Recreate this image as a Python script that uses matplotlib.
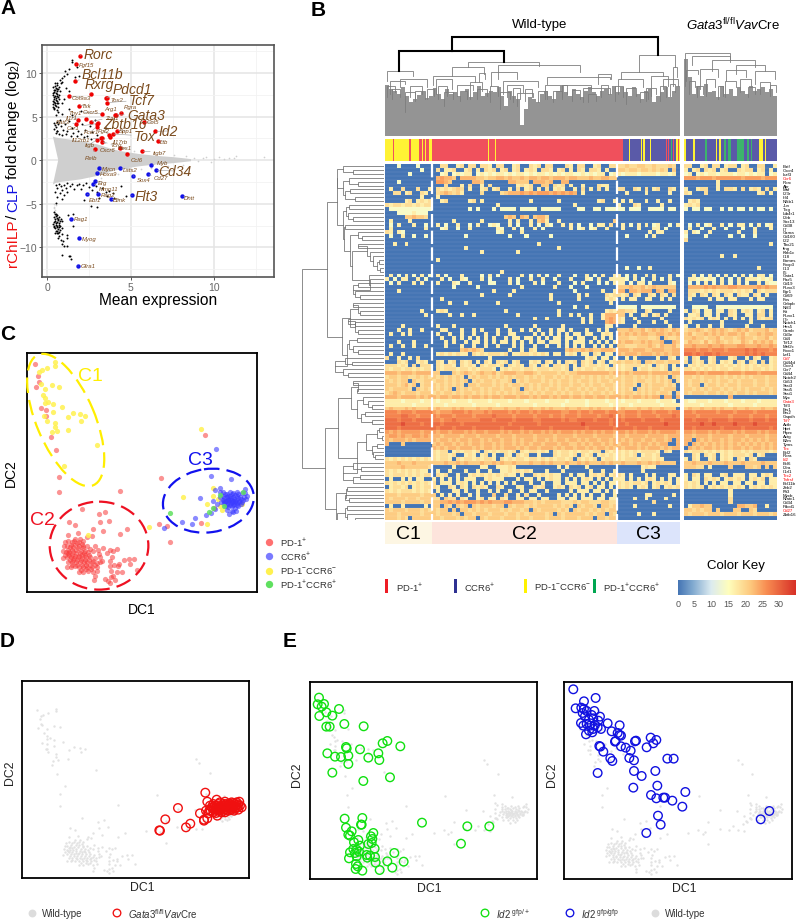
import numpy as np
import matplotlib
matplotlib.use('Agg')
import matplotlib.pyplot as plt
from matplotlib.colors import LinearSegmentedColormap, ListedColormap
from matplotlib.patches import Ellipse, Rectangle

plt.rcParams['font.family'] = ['Liberation Sans', 'DejaVu Sans']
plt.rcParams['mathtext.fontset'] = 'custom'
plt.rcParams['mathtext.rm'] = 'Liberation Sans'
plt.rcParams['mathtext.it'] = 'Liberation Sans:italic'
plt.rcParams['mathtext.default'] = 'regular'

W, H = 800, 920

# ---------- panel A: MA plot, x = mean expression, y = log2 fold change
FUNNEL_X = [0.33, 0.5, 0.8, 1.2, 1.6, 2.0, 2.5, 3.0, 3.5, 4.0, 4.5, 5.0, 5.5, 6.0, 6.5, 7.0, 7.5, 8.0, 8.6]
FUNNEL_UP = [2.7, 2.6, 2.5, 2.4, 2.3, 2.2, 2.0, 1.8, 1.5, 1.2, 1.0, 0.85, 0.7, 0.6, 0.5, 0.42, 0.35, 0.25, 0.12]
FUNNEL_LOW = [-2.8, -2.6, -2.5, -2.4, -2.3, -2.2, -2.0, -1.8, -1.5, -1.2, -1.0, -0.85, -0.7, -0.6, -0.5, -0.42, -0.35, -0.25, -0.12]
FUNNEL_NOTCH = (0.65, 0.0)
GREY_DOTS = [(8.8, 0.3), (9.0, -0.1), (9.3, 0.2), (9.5, 0.35), (9.8, -0.2), (10.0, 0.15), (10.3, 0.4), (10.6, 0.1),
             (10.9, 0.3), (11.2, 0.2), (11.3, 0.45), (13.0, 0.35), (8.3, 0.5), (8.1, -0.5), (7.6, 0.6), (7.2, -0.7),
             (6.8, 0.8), (6.2, -0.9), (5.6, -1.05), (5.2, 1.1), (4.6, 1.4), (4.2, -1.55), (3.8, 1.8), (3.2, -2.1),
             (0.4, -5.4), (0.45, -5.7), (0.4, -5.9), (0.5, -5.2), (0.42, -5.0), (0.38, -5.5)]
BLACK_DOTS = [
    (0.4, 6.0), (0.5, 6.2), (0.35, 6.4), (0.55, 6.5), (0.42, 6.7), (0.6, 6.8), (0.38, 7.0), (0.5, 7.1), (0.62, 7.2),
    (0.45, 7.3), (0.36, 7.5), (0.55, 7.6), (0.7, 7.5), (0.42, 7.8), (0.58, 7.9), (0.4, 8.1), (0.66, 8.2), (0.5, 8.3),
    (0.72, 8.4), (0.46, 8.5), (0.8, 8.8), (0.6, 8.6), (0.9, 9.0), (0.85, 9.4), (1.0, 9.6), (0.75, 9.2), (1.2, 9.9),
    (1.05, 10.2), (1.3, 10.5), (1.5, 11.5), (1.5, 11.2), (1.75, 10.7), (1.9, 9.7), (1.65, 9.5), (0.4, 5.9), (0.62, 6.1),
    (1.1, 8.3), (1.0, 7.0), (1.3, 7.9), (0.9, 6.5), (0.5, 5.2), (0.65, 5.5), (0.85, 5.3), (1.3, 5.9), (1.5, 5.2), (2.0, 5.6),
    (0.33, 6.8), (0.47, 6.5), (0.52, 6.9), (0.4, 7.2), (0.6, 7.4), (0.33, 7.7), (0.5, 7.7), (0.48, 8.0), (0.57, 8.2), (0.36, 8.4),
    (0.44, 6.3), (0.65, 6.6), (0.72, 7.0), (0.78, 7.9), (0.35, 6.1), (0.55, 5.8), (0.6, 8.9), (0.48, 8.8),
    (0.45, 4.0), (0.55, 4.4), (0.42, 3.6), (0.6, 3.4), (0.75, 4.6), (0.8, 3.9), (0.95, 3.5), (1.05, 4.2), (1.2, 3.3),
    (1.3, 4.5), (1.45, 3.7), (1.55, 3.1), (1.7, 4.0), (1.85, 3.4), (2.0, 3.0), (2.1, 4.1), (2.25, 3.5), (2.4, 2.8),
    (2.55, 3.9), (2.7, 3.2), (2.85, 4.6), (3.0, 2.9), (0.5, 3.1), (0.7, 3.0), (0.9, 2.9), (1.1, 3.0), (1.4, 2.8),
    (1.8, 2.8), (2.2, 2.6), (2.6, 2.4), (3.3, 2.2), (3.5, 3.7), (0.5, 3.8), (0.65, 4.2), (0.42, 4.3), (0.55, 3.3),
    (0.5, -2.8), (0.6, -3.2), (0.7, -2.7), (0.8, -3.0), (0.9, -3.4), (1.0, -2.8), (1.1, -3.2), (1.2, -2.6), (1.35, -3.0),
    (1.5, -2.7), (1.6, -3.3), (1.75, -2.9), (1.9, -2.7), (2.0, -3.3), (2.15, -2.8), (2.3, -2.6), (0.45, -3.6), (0.55, -4.2),
    (0.75, -3.8), (0.85, -4.5), (1.0, -4.0), (1.2, -3.7), (0.5, -4.9), (2.5, -3.1), (2.7, -3.4), (2.9, -3.0), (3.0, -3.6),
    (3.3, -3.2), (3.5, -3.7), (3.6, -4.1), (3.9, -3.8), (4.0, -4.3), (3.7, -3.5), (2.2, -4.6), (2.6, -5.3), (2.95, -5.4),
    (4.7, -4.1), (4.4, -3.0), (3.1, -4.3),
    (0.4, -6.0), (0.5, -6.2), (0.6, -6.3), (0.38, -6.5), (0.55, -6.6), (0.72, -6.5), (0.45, -6.8), (0.65, -6.9), (0.8, -6.7),
    (0.4, -7.1), (0.5, -7.2), (0.7, -7.2), (0.85, -7.0), (0.42, -7.5), (0.6, -7.5), (0.78, -7.6), (0.48, -7.8), (0.66, -7.9),
    (0.9, -7.8), (0.5, -8.1), (0.72, -8.2), (0.55, -8.4), (0.85, -8.5), (0.7, -8.7), (0.62, -8.9), (0.8, -9.1), (0.95, -9.3),
    (0.85, -9.6), (1.0, -9.9), (1.15, -9.8), (1.2, -8.6), (1.25, -6.3), (1.55, -6.2), (0.9, -10.9), (1.3, -11.0), (1.4, -11.3),
    (1.35, -10.95), (1.2, -8.9), (1.55, -7.6), (0.44, -6.2), (0.53, -6.45), (0.62, -6.7), (0.47, -7.0), (0.58, -7.05), (0.75, -6.95),
    (0.36, -7.3), (0.53, -7.4), (0.68, -7.45), (0.38, -7.7), (0.56, -7.7), (0.7, -7.7), (0.6, -8.1), (0.45, -8.3), (0.63, -8.35), (0.78, -8.0),
]
RED_GENES = ['Rorc', 'Fgf15', 'Bcl11b', 'Rxrg', 'Col9a3', 'Pdcd1', 'Tox2', 'Tcf7', 'Txk', 'Arg1', 'Rgra', 'Gata3', 'Thy1',
             'Cxcr5', 'Trat1', 'Il1r1', 'Batf3', 'Ccr1', 'Zbtb16', 'Fcer1', 'Fgf2', 'Spp1', 'Tox', 'Il12rb1', 'Il17rb',
             'Itgb', 'Tcrg', 'Cxcr6', 'Hes1', 'Relb', 'Ccl6', 'Itgb7', 'Col5', 'Id2', 'Ltb']
RED_X = [1.96, 1.72, 1.68, 2.6, 1.32, 3.5, 3.55, 3.6, 1.88, 4.07, 4.4, 4.1, 3.3, 2.3, 2.6, 1.85, 1.7, 3.0, 3.05, 2.95,
         3.7, 4.15, 3.9, 3.2, 3.75, 3.0, 3.25, 3.3, 4.37, 2.85, 4.75, 5.65, 5.8, 6.47, 6.6]
RED_Y = [12.0, 11.0, 9.1, 7.6, 7.3, 7.1, 7.15, 6.6, 6.26, 5.2, 5.45, 5.2, 5.34, 4.75, 4.4, 4.65, 4.2, 4.2, 4.3, 3.85,
         2.9, 3.4, 3.0, 2.5, 2.65, 2.35, 2.1, 2.55, 1.37, 1.3, 0.65, 1.0, 4.35, 3.3, 2.2]
BLUE_GENES = ['Myb', 'Cd34', 'Mycn', 'Lats2', 'Hoxa9', 'Sox4', 'Cd27', 'Erg', 'Mmp11', 'Rag2', 'Ebf1', 'Blink', 'Flt3',
              'Dntt', 'Rag1', 'Myog', 'Gfra1']
BLUE_X = [6.23, 6.49, 3.11, 4.37, 2.97, 5.13, 6.0, 2.87, 2.73, 3.03, 2.4, 3.79, 5.05, 8.08, 1.4, 1.9, 1.82]
BLUE_Y = [-0.6, -1.15, -0.92, -0.92, -1.45, -1.8, -1.64, -2.44, -2.75, -3.85, -3.9, -4.47, -4.05, -4.16, -6.76, -8.93, -12.14]
# label anchors (left, centre), in reference pixels, and the text size
RED_LABEL_POS = [(84, 55, 10), (79, 65, 4.3), (82, 75, 10), (85, 85, 10), (72, 98, 4.3), (113, 90, 10), (110, 100, 4.3),
                 (129, 101, 10), (81, 106, 4.3), (104, 109, 4.3), (124, 108, 4.3), (127, 116, 10), (68, 113, 4.3),
                 (83, 113, 4.3), (105, 118, 4.3), (66, 118, 4.3), (56, 123, 4.3), (67, 128, 4.3), (103, 125, 10),
                 (84, 132, 4.3), (98, 132, 4.3), (119, 132, 4.3), (134, 137, 10), (72, 140, 4.3), (113, 142, 4.3),
                 (85, 145, 4.3), (110, 146, 4.3), (100, 150, 4.3), (118, 149, 4.3), (85, 158, 4.3), (131, 161, 4.3),
                 (153, 153, 4.3), (147, 123, 4.3), (158, 132, 10), (160, 142, 4.3)]
BLUE_LABEL_POS = [(157, 163, 4.3), (158, 172, 10), (102, 169, 4.3), (123, 170, 4.3), (100, 175, 4.3), (137, 181, 4.3),
                  (154, 179, 4.3), (98, 183, 4.3), (99, 189, 4.3), (101, 195, 4.3), (89, 201, 4.3), (113, 201, 4.3),
                  (135, 197, 10), (184, 198, 4.3), (74, 220, 4.3), (82, 239, 4.3), (81, 267, 4.3)]

# ---------- panel B: heat map, one string per gene: C1 C2 C3 and Gata3 KO cells, digit = expression level
HEAT_VALUES = [0, 14, 17, 19, 21, 23, 25, 27, 29, 32]
HEAT_ROWS = [
    "000100001000 0033002303303320330023003230330003203300230033020 3343344334333430 33002303302330230033002",
    "000000000100 0302230023020323023023023203320230203203320200230 4434434434343040 20230323023003233023020",
    "000000100000 0012012122012121221212212122121212211212122012120 2122212222122120 12012122122212212122012",
    "000000000000 0565540555544344554544545545545554554445445544550 0000000000000000 66656665666666566665666",
    "000100000000 0665400000554000000554440555450055000000000000000 0000000000000000 00000000200000000000000",
    "000000000000 0003000203002030000002323004403230200200032200000 0000000000000000 00000000200000000000000",
    "020030003002 0323234302002302300203023020302320020302030200320 3300320302300320 20023300203320302320302",
    "003302300320 0345434200003000034555656566656565650200000000000 0020000200000200 32000300000000000023020",
    "000000000200 0200000000000000000000000000000000000000000000000 0000000000000000 00000000000000000000000",
    "000002302323 0023000002302000000000002000000200000000023002300 0202000200200200 02320000000000000000000",
    "323323323233 0000000000000000200000000000000000020000000000002 2000320000020000 23230000000000000000000",
    "011111111111 0000000001010001011110111101111100001100110111100 1101110011110110 10110110010101101011010",
    "000111121110 0000000000000000000000000000000000000000000000000 0000000000000000 00000000000000000000000",
    "000004454430 0000000000000000004540540455300000000000000000000 0000000000000000 00000000000000000000000",
    "020000200000 0000020000002000000202002045200200000000000004400 0000000000000000 00000000000000000000000",
    "010200020010 0201002001020012100201002010210020201001022030120 0201020201200102 01020120020102201020120",
    "020000000020 0012001002000000210020100201000000201201200200002 0200020002201000 02001002001000100200020",
    "320210000000 0000000000000000120000200000000000000000000000000 0000000020220000 20210020000002000200000",
    "010020010010 0000000010000000000100010000010000000000000000000 0010000102000000 10000100000100100100000",
    "000000000000 0000000000000000000000000000000000000000000000000 0000000000000000 30000000000000000000000",
    "002002000000 0000000000000000000000000020000000000000000000000 0000000000000000 00000000000000000000020",
    "000000000000 0000000020000000000000000000000200000000000000000 0000000000000000 00000000000000000000000",
    "000000000000 0000000000002000000002000000000000000000000000000 0000000000000000 00000000000000000000000",
    "000000000000 0000000000000000000000000000000000000000000000000 0000000000000000 00000000020020000000000",
    "000000000000 0200000000000000000000000000000000000000000000000 0000000000000000 00000000000000000000000",
    "000000000000 0000000000000000000000000000000000000000000000000 0000000000000000 00000000000000000000000",
    "000000000000 0000000000000000000000000000000000000000000000000 0010010020000000 00000000000000000020000",
    "000000000000 0000000000000000020000000000000000000000000000000 0000000000000000 00000000000000000000000",
    "020102010201 0201000200001020100000201020100200010020102002000 2010200202000201 00201020102010201022010",
    "201022002010 0020100210002010000201002002001000200021020022010 2210201002010200 02212121020102022212120",
    "010200020200 0200021002000011000201000201000200010200010102010 2201022010000210 01010201020102010020211",
    "000000000000 0000010000010000000000200000002000100010000000000 4445445345444440 05555656555665555565655",
    "000200000000 0000000000000002000020000000000000010000002002000 5505545550540550 03332323233323232032333",
    "000000000000 0000000000002000000200000000020000002020000323300 3230320032032030 03203203203203220320200",
    "000000000000 0020000000000000000000000000020000002000000232000 0202200220020200 02000020220220002022000",
    "000000000000 0000200020000000200000000000000200000000000020000 0000000000000000 00000000000000000000000",
    "000000000000 0000000000000000000000000000000000010020000000000 1111101111111110 00111100111111111111110",
    "000000000200 0232000000000000002000000000000200000000000232430 4433200320000200 20320220220320232023020",
    "000000000020 0000200200200000000002000000000200202002002555450 4402002302302000 02230220200320022033020",
    "000000000000 0000000000000000000000000200200000000202002565550 3200200000020000 32323023202020202032330",
    "000000000000 0000000000000000000000000000000000000202000565650 3200020002002000 02000000020000002000000",
    "000020000000 0200020000000000002000000200000020000000000220020 0000200000000200 20020020020000020002000",
    "000200200200 0022000200202000200200202020020220200020020200020 4445445345454354 34454345454345453444534",
    "020020200000 0200200200200200200220000202020202022022002320200 5454545544554545 45344545454554534454554",
    "000000000000 0020020202020202002022022020202202202200202020200 4443344433404334 44544344534434544344534",
    "000200020000 0002020020220202022020202022022202022202020202023 5455445454450054 35443534543433543545453",
    "020020020020 0002000200200200200020200200200202020200202020020 4433344454354453 55655565565556655565565",
    "000000000000 0000000454543000000200203200000004544545445554555 5554555445554455 77767767776777787877767",
    "020020000000 0232323220323233323022332323202202320220320220323 5455545554545455 88787887877777787878777",
    "300200203000 0000000000000020000000000000000000000023202202302 0020200000200320 20320023000230020320023",
    "000323002320 0320230323020320323023002320320203230323023023023 4344340443443444 30323023023203203203023",
    "333232030333 0323320323203233230323203203203323020323323203323 3233332320323020 02323233232323232323323",
    "323323323233 0323332332323332023233233233323323023233233233233 3233023323323023 33232323233233232332323",
    "555455545555 4400043454345445345554455434444343445555555545555 5454555545555455 66656566665666566656666",
    "344344334343 4343434303434434343434434343443434344343434343443 4344343434343043 44343444343434343444344",
    "434344043344 3443434340343443433403434443434344343443434434434 4344344334343403 43443434344343444344344",
    "444345340344 4343434304434443434344343434434344344343443443434 4344303434443430 43440344343443444344344",
    "434444304343 4343404343443434434434043434344343443434344343443 4343043434434440 44343434434343434443434",
    "345434443444 3434434344343434343434434343443434344343443434434 4344343434344304 43444344343434434344434",
    "555455554545 5455455454554545545554554545545455455455455455455 5454554545505505 00000000000500000000000",
    "222212222122 2122212221222212222122212222122221222212222122221 2122212222122210 21122212221222122212222",
    "222222212222 2221222222122222122222222122222212222212222212222 2221222222212222 22221222222122222122222",
    "454445454445 4544454544454454445445445445454445445445454445445 4544454454454440 45445445454454454445445",
    "777677767777 6566677767666767777676776767777766776776777677777 6677767776777677 77677777677767777677777",
    "777788776777 7677767777677778777767777677767767776777767787777 7677767777677787 77767777777677776777677",
    "888788878888 7767787777778887888878888778888878778888788878888 8788887888878888 88788878888788887888788",
    "888898888788 8878888788888888888788888878888888888988888878888 8878888888889888 88889889888898888988888",
    "888788888888 8788878888788888878888788888878888888878888887888 8888788878888888 88788888878888788888878",
    "656566666566 6566566656566566656566565665656566656566565665656 6656566656566665 66566656566656566656566",
    "566565566565 5545555455545555455545555455554555545555455554555 5545555455554555 55455545555455545555455",
    "545554545555 5455454554554545545545455455454554554545545545455 5454554554554505 55054545545455454545455",
    "500040000000 4545545454554554545545454554555455445454554545455 4554545545455005 50545454545454545454545",
    "000000000000 5454554555454554545554545545554545545545455454555 5455545455545455 05454554545455454554545",
    "000000000000 3233023233230323233230323323203233232332330323023 3232323333203200 32333232323233232333323",
    "000000000000 3233230023202302003203230020003233230323023232323 3232302332300000 00320323023233323023000",
    "323232323232 3233203233232332032323323323232332303232302332323 3233323332320000 20320023023203203200000",
    "444544454444 4445445454445445454454445445454445445454445454445 4544454454544440 44544454445444544445444",
    "444454444443 0000020000002200222320000000000202000020000000000 0000002322000000 44433020000400044340404",
    "323232323220 0200200020020020022323232000200020000002002002002 0000002000000000 00000000000000000000000",
    "323332323233 0323002002323232323220200323232200202202323023022 3202000202000220 20320220023022202202320",
    "020020202200 2020202022200232220002022020232202020232020202022 2202020232020202 20220323202323202323022",
    "323232323232 3022202320202020202020002002002202220220202022202 3232332302323202 32320202022022022022022",
    "023323023233 3200320320323200320002200323002320323023022020323 3232023202302323 32323023232323202323232",
    "323233323232 0200022020020020200200202200200000202220220202022 0000000000000000 00000000000200000000000",
    "444344444344 4020202002020004003002030020000202020202002002030 0000000220000020 00000000000200000000000",
    "434443443444 3304330320023022032002202202200220220222022022022 0000200200002000 00000000000300000000000",
    "444434444344 4455656566656565556655544343444433343443334433344 0000000003000000 00000000000300000000000",
    "020020000020 4404304340434443440434434344443434304344304434443 0000200000000200 02445440000005544500200",
    "434443444343 4344040443434344434344340434444343043443434344343 0000000000000000 44343440400044004300000",
    "444344444344 4344434044344434443443434444340434444434344043444 0000020002000000 43444344434443444344434",
    "444343044444 4434443434404344434443443444344434443444044344344 0000000000000000 00000000000000000000000",
]
GENE_LABELS = ['Batf', 'Cxcr4', 'Ikzf3', 'Ccr6', 'Rorc', 'Ahr', 'Maf', 'Il23r', 'Irf4', 'Nfkb1', 'Jun', 'Tcrg', 'Ltb4r1',
               'Il2rb', 'Sox13', 'Cd38', 'Il7', 'Gzma', 'Cd160', 'Il22', 'Tbx21', 'Ifng', 'Klrb1c', 'Il18', 'Eomes',
               'Foxp3', 'Il13', 'Il5', 'Gata1', 'Pax5', 'Cd19', 'Runx3', 'Egr1', 'Cd69', 'Fos', 'Cebpb', 'Nfil3', 'Kit',
               'Runx1', 'Il7r', 'Notch1', 'Hes5', 'Gzmb', 'Cd3e', 'Cd4', 'Tcf12', 'Mef2c', 'Foxo1', 'Lef1', 'Cd7',
               'Cd44d', 'Cxcr3', 'Ccr7', 'Cd44', 'Notch2', 'Cd53', 'Stat3', 'Stat5', 'Stat1', 'Myc', 'Gata3', 'Tcf3',
               'Ets1', 'Ets2', 'Gapdh', 'Tcf7', 'Actb', 'Hprt', 'Ptprc', 'Actg', 'B2m', 'Tyms', 'Tox', 'Bcl2', 'Rora',
               'Id2', 'Bcl6', 'Il2ra', 'Il1rl1', 'Tox2', 'Tnfrsf', 'Bcl11b', 'Zeb2', 'Flt3', 'Mycb', 'Nfatc1', 'Cd34',
               'Pdcd1', 'Cd27', 'Zbtb16']
RED_LABELS = ['Ccr6', 'Cd7', 'Gata3', 'Tcf7', 'Tox', 'Id2', 'Tox2', 'Tnfrsf', 'Cd27']

# cell class per cell, R PD-1+, B CCR6+, Y PD-1-CCR6-, G PD-1+CCR6+
CLASS_WT = ("YYYYYYYRYYYYYYYYYYYYYYRYYYYYYYYRRYRRYRRRYYRR" + "R" * 49 + "Y" + "RRRRR" + "Y" + "R" * 115 +
            "BBBBBYBBBBBBBBBBYBYBBBBBYBBBBBBBBBBBBBRBRBBGBRBYYRY")
CLASS_KO = "YBBBBYBBBBBBGBBBBBYBYBBGBGGBBBGGGGBBGBGBBBBYYBYBBBBBB"

# top dendrogram, leaf tops per column and upper merges (left, right, top, left foot, right foot), picture units
LEAF_TOPS_WT = [258, 270, 275, 285, 265, 290, 310, 300, 288, 280, 298, 290, 268, 285, 300, 270, 285, 278, 290, 280, 270,
                295, 280, 260, 290, 282, 275, 280, 265, 292, 320, 275, 290, 300, 378, 330, 295, 300, 310, 285, 275, 290,
                300, 275, 262, 280, 290, 270, 285, 295, 275, 265, 280, 290, 275, 270, 285, 260, 278, 265, 280, 290, 265,
                285, 300, 275, 270, 310, 290, 280, 265, 295, 275, 262]
LEAF_TOPS_KO = [180, 235, 285, 260, 290, 255, 280, 275, 295, 262, 285, 270, 290, 265, 275, 285, 260, 275, 270, 265, 280, 270, 290]
MERGES_BOLD = [(485, 1104, 115, 157, 170), (327, 642, 157, 217, 190)]
MERGES_THIN = [
    (535, 748, 190, 205, 202), (487, 583, 205, 230, 225), (625, 870, 200, 240, 218), (1048, 1157, 170, 218, 205),
    (290, 370, 217, 245, 232), (1151, 1163, 205, 262, 235), (995, 1120, 218, 240, 232), (770, 962, 235, 255, 240),
    (430, 555, 232, 258, 248), (568, 585, 222, 250, 240), (603, 680, 218, 260, 240), (640, 745, 245, 285, 265),
    (300, 345, 245, 285, 255), (330, 410, 240, 265, 265), (360, 395, 262, 295, 285), (438, 485, 240, 285, 270),
    (500, 550, 258, 290, 272), (540, 575, 248, 300, 275), (650, 700, 258, 295, 280), (680, 730, 282, 320, 295),
    (765, 830, 258, 300, 285), (815, 905, 258, 295, 270), (925, 965, 225, 255, 240), (880, 960, 268, 310, 285),
    (985, 1060, 240, 285, 265), (1010, 1040, 268, 315, 290), (1085, 1135, 232, 290, 260), (1070, 1100, 268, 305, 285),
    (1120, 1165, 240, 270, 262), (290, 315, 262, 295, 280), (345, 375, 280, 340, 300), (462, 490, 280, 320, 300),
    (630, 660, 280, 330, 300), (305, 330, 270, 300, 295), (375, 405, 275, 305, 300), (410, 432, 270, 300, 290),
    (445, 470, 262, 300, 290), (510, 530, 275, 305, 300), (560, 590, 270, 300, 290), (600, 625, 262, 310, 290),
    (670, 690, 268, 310, 300), (705, 725, 270, 305, 295), (745, 770, 275, 310, 300), (790, 815, 275, 310, 300),
    (845, 870, 272, 305, 300), (895, 920, 285, 310, 305), (935, 955, 258, 295, 285), (975, 1000, 262, 305, 295),
    (1050, 1075, 280, 310, 300), (1110, 1130, 262, 305, 295), (1140, 1155, 255, 290, 280),
]
MERGES_KO = [
    (1185, 1322, 162, 260, 180), (1208, 1322, 172, 200, 190), (1190, 1225, 212, 245, 225), (1268, 1395, 185, 215, 205),
    (1232, 1285, 210, 270, 235), (1338, 1425, 200, 225, 215), (1310, 1370, 212, 245, 235), (1395, 1455, 215, 255, 240),
    (1198, 1215, 245, 285, 265), (1250, 1275, 240, 290, 265), (1305, 1340, 245, 295, 265), (1350, 1385, 240, 280, 262),
    (1410, 1440, 250, 285, 270), (1222, 1240, 260, 295, 285), (1285, 1300, 262, 300, 290), (1375, 1395, 265, 295, 285),
    (1440, 1458, 258, 290, 280),
]

# left dendrogram, (merge position, upper child, lower child), 0 is a leaf
GENE_TREE = (35,
    (110,
        (142,
            (142, (158, 0, (190, 0, 0)), (158, (178, 0, (205, 0, 0)), (165, (180, 0, 0), (195, 0, 0)))),
            (160,
                (168, (178, 0, 0), (175, 0, (190, 0, 0))),
                (162, (165, 0, 0),
                    (180, (205, 0, (215, 0, 0)),
                        (185, (232, (205, 0, 0), (240, 0, (248, 0, (262, (268, 0, 0), (270, 0, 0))))),
                            (238, 0, (240, 0, (188, (205, 0, 0), (195, 0, (210, 0, 0)))))))))),
        (155,
            (180, (205, (190, 0, 0), (210, 0, 0)), (195, (175, 0, (195, 0, 0)), (205, 0, 0))),
            (170, (178, (200, 0, 0), (190, 0, (205, 0, 0))),
                (135, (165, 0, (185, 0, 0)), (160, 0, (175, 0, 0)))))),
    (105,
        (143,
            (182, (205, (190, 0, 0), (200, 0, 0)),
                (200, (220, 0, (235, 0, (245, 0, 0))), (212, (225, 0, 0), (245, 0, 0)))),
            (202, (228, (262, (268, 0, 0), (275, 0, 0)), (245, (262, 0, 0), (250, 0, (255, 0, 0)))),
                (160, (188, 0, (212, 0, 0)), (188, (210, 0, 0), 0)))),
        (138,
            (168, (172, 0, 0), (165, 0, (178, 0, 0))),
            (142, (165, (170, 0, 0), (172, 0, (195, 0, 0))),
                (155, (168, 0, (180, 0, 0)), (175, 0, (200, (205, 0, 0), (210, 0, 0))))))))

CLUSTER_NAMES = ['C1', 'C2', 'C3']
CLUSTER_EDGES = [385, 432, 617, 680]
CLUSTER_FILLS = ['#fdf6e3', '#fde4dc', '#dce4fb']

# ---------- panels C-E, diffusion map coordinates (arbitrary units)
DC_YELLOW = [(165, 160), (165, 170), (140, 177), (125, 183), (118, 190), (122, 225), (157, 228), (177, 234), (136, 240),
             (128, 258), (135, 268), (145, 278), (136, 282), (158, 284), (186, 294), (158, 308), (220, 312), (240, 316),
             (255, 320), (205, 324), (243, 335), (133, 320), (140, 335), (165, 342), (165, 355), (172, 366), (203, 362),
             (155, 369), (290, 407), (192, 472), (603, 361), (265, 677), (447, 654), (548, 564), (622, 646), (640, 536),
             (622, 586), (640, 560), (655, 570), (665, 603), (725, 585), (660, 590)]
DC_RED = [(105, 166), (113, 202), (117, 220), (108, 235), (122, 296), (138, 303), (138, 320), (152, 385), (169, 424), (176, 503),
          (178, 550), (614, 377), (482, 507), (359, 547), (500, 650), (478, 645), (509, 699), (604, 643), (642, 597), (246, 601),
          (296, 615), (316, 608), (300, 640), (328, 635), (208, 639), (225, 647), (235, 672), (280, 659), (310, 667), (380, 661),
          (360, 675), (205, 677), (225, 690), (240, 690), (250, 695), (195, 700), (205, 695), (215, 700), (230, 702), (245, 705),
          (262, 685), (275, 680), (285, 710), (190, 725), (200, 712), (210, 715), (220, 715), (235, 718), (250, 718), (262, 712),
          (188, 748), (198, 728), (208, 730), (218, 730), (228, 733), (240, 733), (252, 732), (265, 730), (280, 725), (295, 722),
          (310, 718), (330, 722), (350, 720), (340, 727), (200, 745), (212, 745), (222, 747), (233, 745), (245, 747), (258, 745),
          (270, 745), (285, 748), (300, 745), (320, 733), (335, 745), (373, 752), (388, 750), (402, 749), (205, 760), (215, 760),
          (228, 760), (240, 760), (252, 760), (262, 760), (275, 760), (290, 762), (306, 755), (330, 757), (343, 768), (357, 765),
          (390, 765), (200, 775), (212, 775), (225, 772), (238, 775), (250, 775), (262, 775), (275, 773), (290, 775), (330, 772),
          (355, 772), (411, 784), (238, 790), (250, 788), (265, 785), (280, 790), (292, 787), (332, 785), (350, 790), (365, 788),
          (285, 800), (315, 810), (340, 802), (282, 812), (345, 812), (330, 823), (325, 815), (332, 805),
          (222, 697), (236, 698), (212, 708), (226, 709), (238, 710), (204, 722), (216, 722), (228, 724), (242, 725), (255, 726),
          (194, 738), (206, 738), (216, 738), (226, 740), (236, 740), (246, 738), (256, 738), (268, 738), (210, 752), (220, 753),
          (232, 753), (244, 754), (256, 752), (268, 752), (280, 756), (216, 768), (232, 767), (246, 767), (258, 768), (270, 767),
          (285, 768), (243, 782), (258, 780), (272, 780), (203, 732), (192, 712), (300, 758), (296, 735), (248, 712), (270, 720)]
DC_BLUE = [(647, 419), (692, 510), (634, 502), (600, 568), (545, 638), (575, 644), (586, 628), (618, 618), (632, 612), (492, 658),
           (645, 542), (660, 538), (640, 575), (660, 550), (670, 548), (680, 555), (690, 548), (700, 552), (712, 548), (725, 552),
           (736, 540), (742, 560), (670, 560), (680, 565), (690, 562), (700, 565), (710, 562), (720, 565), (732, 565), (668, 572),
           (678, 575), (688, 572), (698, 575), (708, 572), (718, 575), (728, 572), (738, 570), (672, 582), (682, 585), (692, 582),
           (702, 585), (712, 582), (722, 585), (675, 592), (685, 595), (695, 592), (705, 596), (715, 592), (680, 603), (695, 605),
           (708, 605), (686, 614), (700, 610), (650, 585), (645, 600),
           (675, 555), (685, 560), (695, 556), (705, 558), (715, 556), (672, 567), (683, 569), (693, 567), (703, 570), (713, 567),
           (723, 570), (676, 578), (686, 580), (696, 578), (706, 580), (716, 578), (726, 578), (680, 588), (690, 589), (700, 589),
           (710, 587), (672, 575), (693, 574), (704, 576), (684, 574), (660, 565), (664, 580), (735, 552)]
DC_GREEN = [(509, 611), (628, 608), (660, 558), (672, 590), (728, 548), (640, 597)]
RING_D = [(616, 491), (534, 537), (496, 571), (480, 605), (478, 604), (558, 595), (571, 584), (600, 553), (612, 572), (622, 518),
          (650, 512), (630, 530), (618, 545), (625, 553), (612, 575), (622, 568), (632, 545), (640, 525), (650, 530), (645, 545),
          (655, 535), (652, 560), (660, 520), (665, 540), (672, 525), (675, 518), (680, 535), (685, 545), (690, 525), (695, 520),
          (698, 535), (702, 545), (705, 525), (710, 520), (712, 535), (718, 518), (720, 530), (725, 535), (715, 542), (690, 540),
          (675, 550), (665, 550), (660, 532), (640, 540), (648, 552), (635, 535), (700, 530), (685, 530), (670, 535), (660, 545),
          (645, 530), (655, 525), (665, 530), (675, 530), (680, 525), (690, 532), (695, 528), (705, 532), (710, 528), (715, 526),
          (700, 522), (680, 542), (670, 545), (655, 545), (695, 542), (705, 538), (650, 540), (640, 550), (628, 545), (660, 538)]
RING_E_GREEN = [(102, 206), (98, 226), (117, 225), (110, 233), (124, 250), (142, 260), (103, 261), (162, 240), (178, 285), (236, 292),
                (124, 293), (134, 293), (307, 336), (293, 343), (346, 352), (183, 354), (185, 358), (225, 361), (127, 373), (150, 383),
                (168, 384), (190, 380), (280, 373), (250, 386), (283, 393), (190, 405), (142, 431), (315, 445), (235, 456), (179, 569),
                (232, 567), (230, 587), (228, 587), (411, 581), (547, 592), (613, 592), (528, 644), (183, 596), (200, 607), (190, 617),
                (195, 620), (265, 612), (258, 622), (262, 630), (220, 633), (207, 640), (260, 642), (250, 645), (225, 650), (205, 660),
                (215, 662), (269, 659), (195, 670), (210, 672), (222, 668), (328, 672), (245, 678), (255, 680), (270, 684), (192, 688),
                (215, 682), (247, 686), (307, 697), (356, 698), (272, 701), (213, 705), (218, 712), (322, 716), (212, 720), (232, 725),
                (284, 723)]
RING_E_BLUE = [(865, 181), (932, 207), (897, 217), (872, 238), (889, 236), (897, 240), (905, 246), (928, 246), (893, 252), (920, 258),
               (945, 263), (900, 262), (912, 272), (925, 268), (940, 275), (888, 282), (905, 285), (895, 290), (915, 290), (930, 288),
               (968, 283), (1004, 289), (912, 305), (925, 300), (948, 300), (938, 295), (903, 316), (922, 310), (980, 307), (998, 312),
               (1008, 320), (1004, 318), (992, 336), (990, 338), (1053, 335), (1050, 337), (1097, 326), (1114, 333), (1105, 343),
               (1085, 355), (943, 351), (946, 353), (955, 368), (1008, 352), (1022, 356), (1037, 365), (1033, 387), (1047, 394),
               (976, 388), (982, 396), (1147, 389), (1166, 389), (938, 432), (1047, 426), (1070, 441), (1111, 426), (1117, 470),
               (1045, 476), (1098, 498), (1114, 508), (1135, 506), (1140, 506), (1162, 515), (1201, 489), (1192, 533), (1119, 560),
               (1127, 587), (1084, 612), (1453, 546), (1427, 571)]
C_YELLOW, C_RED, C_BLUE, C_GREEN = '#fff14f', '#f83a3a', '#3c3cff', '#5fe05f'
LEGEND_RED, LEGEND_BLUE = '#ff7070', '#7a7aff'


def px_axes(x0, y0, x1, y1, **kw):
    # axes placed in reference pixels
    return fig.add_axes([x0 / W, 1 - y1 / H, (x1 - x0) / W, (y1 - y0) / H], **kw)


def pts(pairs):
    a = np.array(pairs, dtype=float)
    return a[:, 0], a[:, 1]


fig = plt.figure(figsize=(W / 100, H / 100), dpi=100, facecolor='white')
ov = px_axes(0, 0, W, H, zorder=20)
ov.set_xlim(0, W)
ov.set_ylim(H, 0)
ov.axis('off')
ov.patch.set_alpha(0)

for letter, lx, ly in [('A', 8, 9), ('B', 318, 11), ('C', 8, 335), ('D', 7, 642), ('E', 290, 642)]:
    ov.text(lx, ly, letter, fontsize=15, fontweight='bold', ha='center', va='center')

# ---- A
axA = px_axes(41.7, 45.7, 274, 278)
axA.set_xlim(-0.34, 13.57)
axA.set_ylim(-13.4, 13.24)
axA.set_xticks([0, 5, 10])
axA.set_yticks([-10, -5, 0, 5, 10])
axA.set_yticklabels(['\u221210', '\u22125', '0', '5', '10'])
axA.set_xticks([2.5, 7.5, 12.5], minor=True)
axA.set_yticks([-12.5, -7.5, -2.5, 2.5, 7.5, 12.5], minor=True)
axA.grid(which='major', color='#e4e4e4', lw=1.1)
axA.grid(which='minor', color='#f2f2f2', lw=0.6)
axA.set_axisbelow(True)
axA.tick_params(which='minor', length=0)
axA.tick_params(which='major', length=2, width=0.7, color='#555555', labelcolor='#666666', labelsize=7.5, pad=1.5)
for s in axA.spines.values():
    s.set_color('#555555')
    s.set_linewidth(1.2)
axA.fill(FUNNEL_X + FUNNEL_X[::-1] + [FUNNEL_NOTCH[0]], FUNNEL_UP + FUNNEL_LOW[::-1] + [FUNNEL_NOTCH[1]],
         color='#cfcfcf', lw=0, zorder=1)
gx, gy = pts(GREY_DOTS)
axA.scatter(gx, gy, s=1.5, color='#d0d0d0', lw=0, zorder=1)
bx, by = pts(BLACK_DOTS)
axA.scatter(bx, by, s=2, color='black', lw=0, zorder=2)
axA.scatter(RED_X, RED_Y, s=10, color='#f00000', lw=0, zorder=3)
axA.scatter(BLUE_X, BLUE_Y, s=10, color='#1010e8', lw=0, zorder=3)
gene_sets = [(RED_GENES, RED_X, RED_Y, RED_LABEL_POS), (BLUE_GENES, BLUE_X, BLUE_Y, BLUE_LABEL_POS)]
for names, xs, ys, places in gene_sets:
    for name, x, y, (lx, ly, size) in zip(names, xs, ys, places):
        axA.annotate(name, xy=(x, y), xycoords='data', xytext=(lx, ly), textcoords=ov.transData,
                     fontsize=size, style='italic', color='#7a4a1c', va='center', ha='left', zorder=4,
                     arrowprops=dict(arrowstyle='-', color='#999999', lw=0.4, shrinkA=0, shrinkB=1))
ov.text(158, 301, 'Mean expression', fontsize=11.2, ha='center', va='center')
for piece, py, colour in [('rChILP', 267, '#f01010'), ('/', 219, 'black'), ('CLP', 212.5, '#1010e0'),
                          ('fold change (log$_2$)', 180, 'black')]:
    ov.text(13, py, piece, fontsize=11, color=colour, rotation=90, ha='center', va='bottom')

# ---- B top annotation and dendrogram
axT = px_axes(385, 33, 777, 136.5)
axT.set_xlim(285, 1462)
axT.set_ylim(409, 100)
axT.axis('off')
wt_x = np.linspace(285, 1170, len(LEAF_TOPS_WT), endpoint=False)
axT.bar(wt_x, 409 - np.array(LEAF_TOPS_WT), bottom=LEAF_TOPS_WT, width=(1170 - 285) / len(LEAF_TOPS_WT), align='edge', color='#949494', lw=0)
ko_x = np.linspace(1183, 1462, len(LEAF_TOPS_KO), endpoint=False)
axT.bar(ko_x, 409 - np.array(LEAF_TOPS_KO), bottom=LEAF_TOPS_KO, width=(1462 - 1183) / len(LEAF_TOPS_KO), align='edge', color='#949494', lw=0)
for merges, colour, lw in [(MERGES_THIN, '#7d7d7d', 0.6), (MERGES_KO, '#7d7d7d', 0.6), (MERGES_BOLD, 'black', 1.5)]:
    for xl, xr, top, fl, fr in merges:
        axT.plot([xl, xl, xr, xr], [fl, top, top, fr], color=colour, lw=lw, solid_joinstyle='miter')
ov.text(540, 25, 'Wild-type', fontsize=9.5, ha='center', va='center')
ov.text(733, 25, r'$\mathit{Gata3}^{fl/fl}\mathit{Vav}$Cre', fontsize=9.5, ha='center', va='center')

class_cmap = ListedColormap(['#f0505c', '#5a5aa8', '#fff234', '#3cb46c'])
axS = px_axes(385, 140, 777, 162)
axS.set_xlim(385, 777)
axS.set_ylim(0, 1)
axS.axis('off')
for codes, x0, x1 in [(CLASS_WT, 385, 680), (CLASS_KO, 684, 777)]:
    strip = np.array([['RBYG'.index(c) for c in codes]])
    axS.imshow(strip, cmap=class_cmap, vmin=0, vmax=3, aspect='auto', extent=(x0, x1, 0, 1), interpolation='nearest')
axS.set_xlim(385, 777)

# ---- B heat map
heat_cmap = LinearSegmentedColormap.from_list('key', [(0, '#4575b4'), (0.12, '#7fa8cf'), (0.28, '#dcebf0'),
                                                      (0.43, '#fffebc'), (0.62, '#fdc77c'), (0.75, '#f88d52'),
                                                      (1, '#d73027')])
axH = px_axes(385, 165, 777, 521)
rows = [r.split() for r in HEAT_ROWS]
nrows = len(rows)
block_cols = [12, 46, 16, 23]
block_px = [(385, 432), (432, 617), (617, 680), (684, 777)]
for b, (x0, x1) in enumerate(block_px):
    grid = np.array([[HEAT_VALUES[int(c)] for c in r[b].ljust(block_cols[b], r[b][-1])[:block_cols[b]]] for r in rows])
    axH.imshow(grid, cmap=heat_cmap, vmin=0, vmax=35, aspect='auto', extent=(x0, x1, nrows, 0), interpolation='nearest')
axH.set_xlim(385, 777)
axH.set_ylim(nrows, 0)
axH.axis('off')
axH.hlines(np.arange(1, nrows), 385, 777, color='white', lw=0.25, alpha=0.25)
axH.vlines([432, 617], 0, nrows, color='white', lw=1.6, linestyles=(0, (6, 1.5)))

for i, name in enumerate(GENE_LABELS[:nrows]):
    colour = 'red' if name in RED_LABELS else 'black'
    axH.text(782.5, i + 0.5, name, fontsize=3.2, color=colour, ha='left', va='center', clip_on=False)

# ---- B left dendrogram
axL = px_axes(290, 165, 384, 521)
axL.set_xlim(0, 282)
axL.set_ylim(nrows, 0)
axL.axis('off')


def draw_tree(node, next_row):
    # returns (centre row, merge position, next free row)
    if node == 0:
        return next_row + 0.5, 282, next_row + 1
    h, a, b = node
    ya, xa, next_row = draw_tree(a, next_row)
    yb, xb, next_row = draw_tree(b, next_row)
    axL.plot([xa, h, h, xb], [ya, ya, yb, yb], color='#6e6e6e', lw=0.55, solid_joinstyle='miter')
    return (ya + yb) / 2, h, next_row


draw_tree(GENE_TREE, 0)

# cluster band
axBand = px_axes(385, 523, 680, 545)
axBand.set_xlim(385, 680)
axBand.set_ylim(0, 1)
axBand.axis('off')
for i, name in enumerate(CLUSTER_NAMES):
    axBand.add_patch(Rectangle((CLUSTER_EDGES[i], 0), CLUSTER_EDGES[i + 1] - CLUSTER_EDGES[i], 1, color=CLUSTER_FILLS[i], lw=0))
    axBand.text((CLUSTER_EDGES[i] + CLUSTER_EDGES[i + 1]) / 2, 0.47, name, fontsize=14, ha='center', va='center')

# class legend for B
for lx, colour, label in [(386.5, '#ee1c25', 'PD-1$^{+}$'), (455.5, '#2e3192', 'CCR6$^{+}$'),
                          (525, '#fff200', 'PD-1$^{-}$CCR6$^{-}$'), (594, '#00a651', 'PD-1$^{+}$CCR6$^{+}$')]:
    ov.add_patch(Rectangle((lx - 1.5, 580), 3, 14, color=colour, lw=0))
    ov.text(lx + 9, 588, label, fontsize=6.8, color='#333333', ha='left', va='center')

# colour key
axK = px_axes(677.7, 580.7, 795.7, 596)
axK.imshow(np.linspace(0, 35, 256)[None, :], cmap=heat_cmap, vmin=0, vmax=35, aspect='auto', extent=(0, 34.9, 0, 1))
axK.set_yticks([])
axK.set_xticks([0, 5, 10, 15, 20, 25, 30])
axK.tick_params(length=0, labelsize=6.5, labelcolor='#555555', pad=3)
for s in axK.spines.values():
    s.set_visible(False)
ov.text(736, 566.5, 'Color Key', fontsize=9.5, ha='center', va='center')

# ---- C
axC = px_axes(26.7, 354, 256.7, 593.3)
axC.set_xlim(80, 770)
axC.set_ylim(850, 132)
axC.set_xticks([])
axC.set_yticks([])
for s in axC.spines.values():
    s.set_linewidth(1.3)
for pairs, colour, al in [(DC_RED, C_RED, 0.55), (DC_YELLOW, C_YELLOW, 0.85), (DC_BLUE, C_BLUE, 0.6), (DC_GREEN, C_GREEN, 0.85)]:
    cx, cy = pts(pairs)
    axC.scatter(cx, cy, s=14, color=colour, alpha=al, lw=0, zorder=3)
for centre, w, h, angle, colour in [((197, 333), 425, 175, 67, '#ffee00'), ((297, 710), 296, 264, 0, '#ee1122'),
                                    ((625, 575), 274, 190, -8, '#1111ee')]:
    axC.add_patch(Ellipse(centre, w, h, angle=angle, fill=False, ec=colour, lw=1.6, ls=(0, (7, 3.2)), zorder=4, clip_on=False))
ov.text(90, 376.5, 'C1', fontsize=14, color='#ffee00', ha='center', va='center')
ov.text(42, 520.5, 'C2', fontsize=14, color='#ee1122', ha='center', va='center')
ov.text(200, 460.5, 'C3', fontsize=14, color='#1111ee', ha='center', va='center')
ov.text(142, 610, 'DC1', fontsize=10, ha='center', va='center')
ov.text(11, 473, 'DC2', fontsize=10, rotation=90, ha='center', va='center')
for ly, colour, label in [(543, LEGEND_RED, 'PD-1$^{+}$'), (557, LEGEND_BLUE, 'CCR6$^{+}$'),
                          (571.5, C_YELLOW, 'PD-1$^{-}$CCR6$^{-}$'), (585, C_GREEN, 'PD-1$^{+}$CCR6$^{+}$')]:
    ov.scatter([269], [ly], s=28, color=colour, lw=0)
    ov.text(280, ly, label, fontsize=6.8, color='#333333', ha='left', va='center')

# ---- D, E
wt_pairs = DC_RED + DC_YELLOW + DC_BLUE + DC_GREEN


def ring_panel(box, xlim, ylim, rings, colour):
    ax = px_axes(*box)
    wx, wy = pts(wt_pairs)
    # wild-type cells share the scale of panel C, rings are read in the panel's own units
    sx = (np.array(wx) - 59) / (771 - 59) * (xlim[1] - xlim[0]) + xlim[0]
    sy = (np.array(wy) - 46) / (842 - 46) * (ylim[0] - ylim[1]) + ylim[1]
    ax.set_xlim(*xlim)
    ax.set_ylim(*ylim)
    ax.scatter(sx, sy, s=3, color='#e2e2e2', lw=0)
    rx, ry = pts(rings)
    ax.scatter(rx, ry, s=38, facecolors='none', edgecolors=colour, lw=1.0)
    ax.set_xticks([])
    ax.set_yticks([])
    for s in ax.spines.values():
        s.set_linewidth(1.3)
    return ax


ring_panel((22.3, 681.7, 249.3, 879), (67, 748), (747, 155), RING_D, '#f01010')
ring_panel((310, 683.3, 537.3, 880), (75, 757), (750, 160), RING_E_GREEN, '#10e010')
ring_panel((564.3, 683.3, 791.7, 880), (838, 1520), (750, 160), RING_E_BLUE, '#1010e0')
for lx, ly in [(142, 888), (429, 889), (684, 889)]:
    ov.text(lx, ly, 'DC1', fontsize=8.8, color='#222222', ha='center', va='center')
for lx, ly in [(10, 773), (297, 775), (552, 775)]:
    ov.text(lx, ly, 'DC2', fontsize=8.8, color='#222222', rotation=90, ha='center', va='center')

ov.scatter([32], [914], s=32, color='#dcdcdc', lw=0)
ov.text(42, 914.5, 'Wild-type', fontsize=7, color='#333333', ha='left', va='center')
ov.scatter([117], [914], s=30, facecolors='none', edgecolors='#f01010', lw=0.95)
ov.text(128, 914, r'$\mathit{Gata3}^{fl/fl}\mathit{Vav}$Cre', fontsize=7, color='#333333', ha='left', va='center')
ov.scatter([485], [914], s=30, facecolors='none', edgecolors='#10e010', lw=0.95)
ov.text(496, 914, r'$\mathit{Id2}^{\ gfp/+}$', fontsize=7, color='#333333', ha='left', va='center')
ov.scatter([570], [914], s=30, facecolors='none', edgecolors='#1010e0', lw=0.95)
ov.text(581, 914, r'$\mathit{Id2}^{\ gfp/gfp}$', fontsize=7, color='#333333', ha='left', va='center')
ov.scatter([655], [914], s=32, color='#dcdcdc', lw=0)
ov.text(665, 914.5, 'Wild-type', fontsize=7, color='#333333', ha='left', va='center')

fig.savefig('out.png', dpi=100, facecolor='white')
